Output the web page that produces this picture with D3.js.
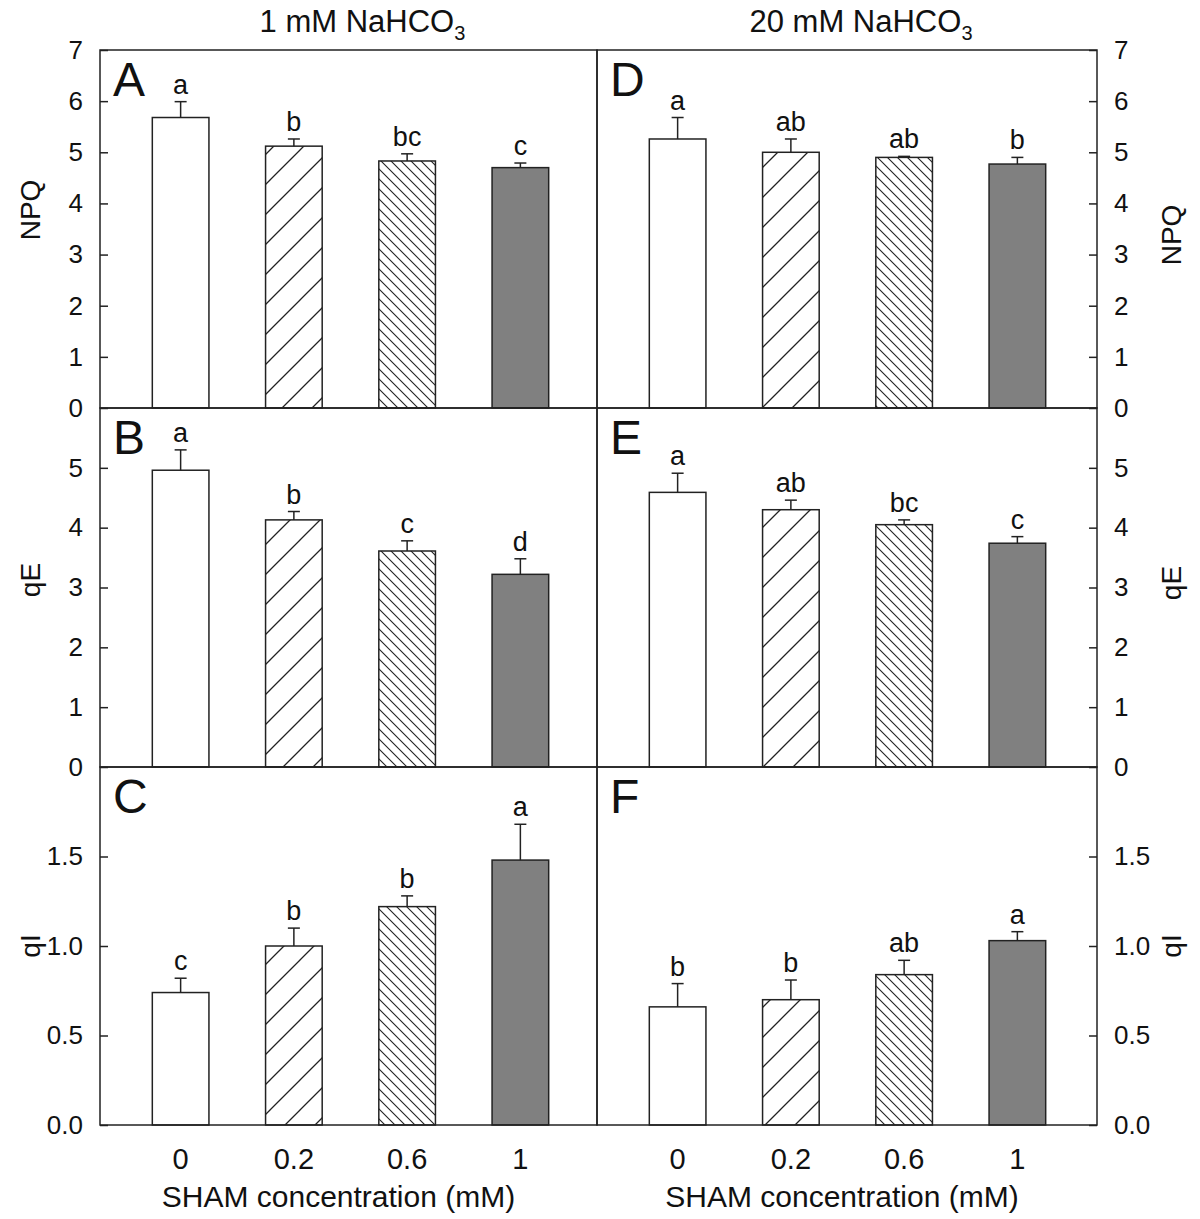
<!DOCTYPE html>
<html><head><meta charset="utf-8">
<script src="https://cdn.jsdelivr.net/npm/d3@7"></script>
<style>
body{margin:0;background:#fff;}
text{font-family:"Liberation Sans",Arial,Helvetica,sans-serif;fill:#111;}
</style></head>
<body>
<svg id="chart" width="1200" height="1219"></svg>
<script>
// ---- data ----
const categories = ["0", "0.2", "0.6", "1"];
const columnTitles = ["1 mM NaHCO", "20 mM NaHCO"];
const xTitle = "SHAM concentration (mM)";
const rowTitles = ["NPQ", "qE", "qI"];
const panelLetters = [["A", "D"], ["B", "E"], ["C", "F"]];

const npq1 = [5.68, 5.12, 4.83, 4.70];
const npq1Err = [0.31, 0.14, 0.14, 0.09];
const npq20 = [5.26, 5.00, 4.90, 4.77];
const npq20Err = [0.42, 0.26, 0.02, 0.13];

const qE1 = [4.96, 4.13, 3.61, 3.22];
const qE1Err = [0.34, 0.14, 0.17, 0.26];
const qE20 = [4.59, 4.30, 4.05, 3.74];
const qE20Err = [0.32, 0.16, 0.08, 0.11];

const qI1 = [0.74, 1.00, 1.22, 1.48];
const qI1Err = [0.08, 0.10, 0.06, 0.20];
const qI20 = [0.66, 0.70, 0.84, 1.03];
const qI20Err = [0.13, 0.11, 0.08, 0.05];

const npq1Letters = ["a", "b", "bc", "c"];
const npq20Letters = ["a", "ab", "ab", "b"];
const qE1Letters = ["a", "b", "c", "d"];
const qE20Letters = ["a", "ab", "bc", "c"];
const qI1Letters = ["c", "b", "b", "a"];
const qI20Letters = ["b", "b", "ab", "a"];

const npqTicks = [0, 1, 2, 3, 4, 5, 6, 7];
const qETicks = [0, 1, 2, 3, 4, 5];
const qITicks = [0, 0.5, 1.0, 1.5];

const rows = [
  {domain: [0, 7], ticks: npqTicks, fmt: d3.format("d"),
   cols: [{v: npq1, e: npq1Err, l: npq1Letters}, {v: npq20, e: npq20Err, l: npq20Letters}]},
  {domain: [0, 6], ticks: qETicks, fmt: d3.format("d"),
   cols: [{v: qE1, e: qE1Err, l: qE1Letters}, {v: qE20, e: qE20Err, l: qE20Letters}]},
  {domain: [0, 2], ticks: qITicks, fmt: d3.format(".1f"),
   cols: [{v: qI1, e: qI1Err, l: qI1Letters}, {v: qI20, e: qI20Err, l: qI20Letters}]}
];

// ---- layout ----
const colEdges = [100, 597, 1097];
const rowEdges = [50, 408, 767, 1125];
const rowTitleY = [[210, 235], [580, 583], [946, 946]];
const xTitleShift = [-10, -5];
const ink = "#222";
const FONT = '"Liberation Sans",Arial,sans-serif';
const svg = d3.select("#chart");

// patterns
const defs = svg.append("defs");
const p1 = defs.append("pattern").attr("id", "fwd").attr("patternUnits", "userSpaceOnUse")
  .attr("width", 30).attr("height", 30);
p1.append("rect").attr("width", 30).attr("height", 30).attr("fill", "#fff");
p1.append("path").attr("d", "M0,30L30,0M-8,8L8,-8M22,38L38,22")
  .attr("stroke", ink).attr("stroke-width", 1.3);
const p2 = defs.append("pattern").attr("id", "back").attr("patternUnits", "userSpaceOnUse")
  .attr("width", 10).attr("height", 10);
p2.append("rect").attr("width", 10).attr("height", 10).attr("fill", "#fff");
p2.append("path").attr("d", "M0,0L10,10M-3,7L3,13M7,-3L13,3")
  .attr("stroke", ink).attr("stroke-width", 1.1);
const fills = ["#fff", "url(#fwd)", "url(#back)", "#808080"];

rows.forEach((row, ri) => {
  const y = d3.scaleLinear().domain(row.domain).range([rowEdges[ri + 1], rowEdges[ri]]);
  row.cols.forEach((col, ci) => {
    const left = colEdges[ci], right = colEdges[ci + 1];
    const x = d3.scaleBand().domain(categories)
      .range([left + 24, left + 24 + 453]).paddingInner(0.5).paddingOuter(0.25);
    const g = svg.append("g");
    const data = categories.map((c, i) => ({c, v: col.v[i], e: col.e[i], l: col.l[i], i}));

    // bars
    g.selectAll("rect.bar").data(data).enter().append("rect")
      .attr("x", d => x(d.c)).attr("width", x.bandwidth())
      .attr("y", d => y(d.v)).attr("height", d => y(0) - y(d.v))
      .attr("fill", d => fills[d.i]).attr("stroke", ink).attr("stroke-width", 1.5);
    // error bars
    g.selectAll("line.err").data(data).enter().append("line")
      .attr("x1", d => x(d.c) + x.bandwidth() / 2).attr("x2", d => x(d.c) + x.bandwidth() / 2)
      .attr("y1", d => y(d.v)).attr("y2", d => y(d.v + d.e))
      .attr("stroke", ink).attr("stroke-width", 1.5);
    g.selectAll("line.cap").data(data).enter().append("line")
      .attr("x1", d => x(d.c) + x.bandwidth() / 2 - 6).attr("x2", d => x(d.c) + x.bandwidth() / 2 + 6)
      .attr("y1", d => y(d.v + d.e)).attr("y2", d => y(d.v + d.e))
      .attr("stroke", ink).attr("stroke-width", 1.5);
    // significance letters
    g.selectAll("text.sig").data(data).enter().append("text")
      .attr("x", d => x(d.c) + x.bandwidth() / 2).attr("y", d => y(d.v + d.e) - 8)
      .attr("text-anchor", "middle").attr("font-size", 27).text(d => d.l);

    // y axis
    const isLeft = ci === 0;
    const axis = (isLeft ? d3.axisLeft(y) : d3.axisRight(y))
      .tickValues(row.ticks).tickFormat(row.fmt).tickSize(-8).tickPadding(17);
    const ag = svg.append("g").attr("transform", `translate(${isLeft ? left : right},0)`).call(axis);
    ag.select(".domain").remove();
    ag.selectAll(".tick line").attr("stroke", ink).attr("stroke-width", 1.5);
    ag.selectAll(".tick text").attr("font-size", 26).attr("fill", "#111").attr("font-family", FONT);

    // frame
    svg.append("rect").attr("x", left).attr("y", rowEdges[ri])
      .attr("width", right - left).attr("height", rowEdges[ri + 1] - rowEdges[ri])
      .attr("fill", "none").attr("stroke", ink).attr("stroke-width", 1.5);

    // panel letter
    svg.append("text").attr("x", left + 13).attr("y", rowEdges[ri] + 46)
      .attr("font-size", 48).text(panelLetters[ri][ci]);

    // x axis labels on bottom row
    if (ri === 2) {
      const xa = d3.axisBottom(x).tickSize(0).tickPadding(23);
      const xg = svg.append("g").attr("transform", `translate(0,${rowEdges[3]})`).call(xa);
      xg.select(".domain").remove();
      xg.selectAll(".tick text").attr("font-size", 29).attr("fill", "#111").attr("font-family", FONT);
      svg.append("text").attr("x", (left + right) / 2 + xTitleShift[ci]).attr("y", 1207)
        .attr("text-anchor", "middle").attr("font-size", 30).text(xTitle);
    }
    if (ri === 0) {
      const t = svg.append("text").attr("x", (left + right) / 2 + 14).attr("y", 32)
        .attr("text-anchor", "middle").attr("font-size", 31);
      t.append("tspan").text(columnTitles[ci]);
      t.append("tspan").attr("dy", 8).attr("font-size", 20).text("3");
    }
  });
  // row titles
  [30, 1171].forEach((px, k) => {
    svg.append("text").attr("transform", `translate(${px},${rowTitleY[ri][k]}) rotate(-90)`)
      .attr("text-anchor", "middle").attr("dy", "0.35em").attr("font-size", 28).text(rowTitles[ri]);
  });
});
</script>
</body></html>
